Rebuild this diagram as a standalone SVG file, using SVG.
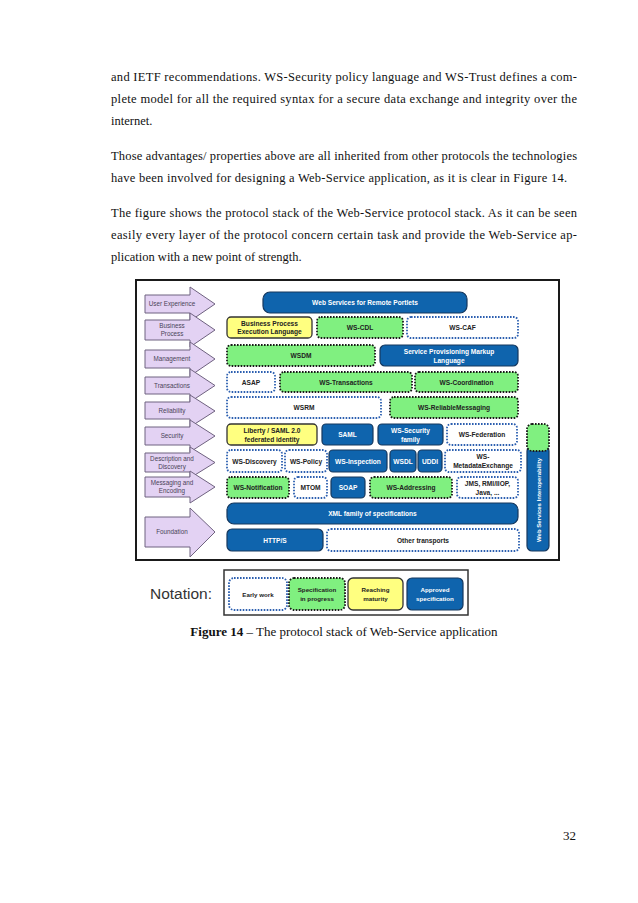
<svg xmlns="http://www.w3.org/2000/svg" width="638" height="903" viewBox="0 0 638 903">
<style>
.para{font-family:"Liberation Serif","Times New Roman",serif;font-size:12.5px;fill:#111}
.blue{fill:#0f64ad;stroke:#16385e;stroke-width:1.2}
.green{fill:#80f080;stroke:#1a1a1a;stroke-width:1.8;stroke-dasharray:1.6 1.4}
.white{fill:#fff;stroke:#2c5fb0;stroke-width:1.8;stroke-dasharray:1.6 1.4}
.yellow{fill:#ffff80;stroke:#333;stroke-width:1.3}
.arrow{fill:#e3d2f3;stroke:#6f6280;stroke-width:1}
.lb{font-family:"Liberation Sans",Arial,sans-serif;font-weight:bold;font-size:6.6px;text-anchor:middle;fill:#222}
.wt{fill:#fff}
.al{font-family:"Liberation Sans",Arial,sans-serif;font-size:6.3px;text-anchor:middle;fill:#4a4458}
</style>
<rect width="638" height="903" fill="#fff"/>
<g id="body-text">
<text class="para" x="111" y="81" textLength="466" lengthAdjust="spacing">and IETF recommendations. WS-Security policy language and WS-Trust defines a com-</text>
<text class="para" x="111" y="103" textLength="466" lengthAdjust="spacing">plete model for all the required syntax for a secure data exchange and integrity over the</text>
<text class="para" x="111" y="125">internet.</text>
<text class="para" x="111" y="160" textLength="466" lengthAdjust="spacing">Those advantages/ properties above are all inherited from other protocols the technologies</text>
<text class="para" x="111" y="182" textLength="456" lengthAdjust="spacing">have been involved for designing a Web-Service application, as it is clear in Figure 14.</text>
<text class="para" x="111" y="217" textLength="466" lengthAdjust="spacing">The figure shows the protocol stack of the Web-Service protocol stack. As it can be seen</text>
<text class="para" x="111" y="239" textLength="466" lengthAdjust="spacing">easily every layer of the protocol concern certain task and provide the Web-Service ap-</text>
<text class="para" x="111" y="261">plication with a new point of strength.</text>
</g>
<g id="frame">
<rect x="136" y="280" width="423" height="280" fill="#fff" stroke="#1a1a1a" stroke-width="2"/>
</g>
<g id="arrows">
<g id="arrow-ue"><path class="arrow" d="M145,295H190V287L215,304L190,321V313H145Z"/><text class="al" x="172" y="306">User Experience</text></g>
<g id="arrow-bp"><path class="arrow" d="M145,320H190V313L215,330L190,347V340H145Z"/><text class="al" x="172" y="328">Business</text><text class="al" x="172" y="336">Process</text></g>
<g id="arrow-mgmt"><path class="arrow" d="M145,350H190V342L215,359L190,376V368H145Z"/><text class="al" x="172" y="361">Management</text></g>
<g id="arrow-trans"><path class="arrow" d="M145,377H190V369L215,385.5L190,402V394H145Z"/><text class="al" x="172" y="387.5">Transactions</text></g>
<g id="arrow-rel"><path class="arrow" d="M145,402H190V395L215,411L190,427V419H145Z"/><text class="al" x="172" y="413">Reliability</text></g>
<g id="arrow-sec"><path class="arrow" d="M145,427H190V420L215,436L190,452V445H145Z"/><text class="al" x="172" y="438">Security</text></g>
<g id="arrow-dd"><path class="arrow" d="M145,453H190V447L215,462.5L190,478V472H145Z"/><text class="al" x="172" y="461">Description and</text><text class="al" x="172" y="469">Discovery</text></g>
<g id="arrow-me"><path class="arrow" d="M145,477H190V471L215,487L190,503V497H145Z"/><text class="al" x="172" y="485">Messaging and</text><text class="al" x="172" y="493">Encoding</text></g>
<g id="arrow-found"><path class="arrow" d="M145,517H190V508L215,532L190,557V547H145Z"/><text class="al" x="172" y="534">Foundation</text></g>
</g>
<g id="connectors"/>
<g id="wsrp"><rect class="blue" x="263" y="292" width="204" height="21" rx="7"/><text class="lb wt" x="365" y="305">Web Services for Remote Portlets</text></g>
<g id="bpel"><rect class="yellow" x="227" y="317" width="85" height="21" rx="4"/><text class="lb" x="269.5" y="326">Business Process</text><text class="lb" x="269.5" y="334">Execution Language</text></g>
<g id="ws-cdl"><rect class="green" x="317" y="317" width="86" height="21" rx="4"/><text class="lb" x="360" y="330">WS-CDL</text></g>
<g id="ws-caf"><rect class="white" x="407" y="317" width="111" height="21" rx="4"/><text class="lb" x="462.5" y="330">WS-CAF</text></g>
<g id="wsdm"><rect class="green" x="227" y="345" width="148" height="21" rx="4"/><text class="lb" x="301" y="358">WSDM</text></g>
<g id="spml"><rect class="blue" x="380" y="345" width="138" height="21" rx="5"/><text class="lb wt" x="449" y="354">Service Provisioning Markup</text><text class="lb wt" x="449" y="362.5">Language</text></g>
<g id="asap"><rect class="white" x="227" y="372" width="48" height="20" rx="4"/><text class="lb" x="251" y="384.5">ASAP</text></g>
<g id="ws-transactions"><rect class="green" x="280" y="372" width="132" height="20" rx="4"/><text class="lb" x="346" y="384.5">WS-Transactions</text></g>
<g id="ws-coordination"><rect class="green" x="415" y="372" width="103" height="20" rx="4"/><text class="lb" x="466.5" y="384.5">WS-Coordination</text></g>
<g id="wsrm"><rect class="white" x="227" y="397" width="154" height="21" rx="4"/><text class="lb" x="304" y="410">WSRM</text></g>
<g id="ws-rm"><rect class="green" x="390" y="397" width="128" height="21" rx="4"/><text class="lb" x="454" y="410">WS-ReliableMessaging</text></g>
<g id="liberty"><rect class="yellow" x="227" y="424" width="90" height="21" rx="4"/><text class="lb" x="272" y="433">Liberty / SAML 2.0</text><text class="lb" x="272" y="441.5">federated identity</text></g>
<g id="saml"><rect class="blue" x="322" y="424" width="51" height="21" rx="4"/><text class="lb wt" x="347.5" y="437">SAML</text></g>
<g id="ws-security"><rect class="blue" x="378" y="424" width="65" height="21" rx="4"/><text class="lb wt" x="410.5" y="433">WS-Security</text><text class="lb wt" x="410.5" y="441.5">family</text></g>
<g id="ws-federation"><rect class="white" x="447" y="424" width="70" height="21" rx="4"/><text class="lb" x="482" y="437">WS-Federation</text></g>
<g id="ws-discovery"><rect class="white" x="227" y="450" width="55" height="22" rx="4"/><text class="lb" x="254.5" y="463.5">WS-Discovery</text></g>
<g id="ws-policy"><rect class="white" x="285" y="450" width="42" height="22" rx="4"/><text class="lb" x="306" y="463.5">WS-Policy</text></g>
<g id="ws-inspection"><rect class="blue" x="329" y="450" width="58" height="22" rx="4"/><text class="lb wt" x="358" y="463.5">WS-Inspection</text></g>
<g id="wsdl"><rect class="blue" x="390" y="450" width="26" height="22" rx="4"/><text class="lb wt" x="403" y="463.5">WSDL</text></g>
<g id="uddi"><rect class="blue" x="418" y="450" width="24" height="22" rx="4"/><text class="lb wt" x="430" y="463.5">UDDI</text></g>
<g id="ws-mex"><rect class="white" x="445" y="450" width="76" height="22" rx="4"/><text class="lb" x="483" y="459">WS-</text><text class="lb" x="483" y="468">MetadataExchange</text></g>
<g id="ws-notification"><rect class="green" x="227" y="477" width="62" height="21" rx="4"/><text class="lb" x="258" y="490">WS-Notification</text></g>
<g id="mtom"><rect class="white" x="294" y="477" width="33" height="21" rx="4"/><text class="lb" x="310.5" y="490">MTOM</text></g>
<g id="soap"><rect class="blue" x="331" y="477" width="34" height="21" rx="4"/><text class="lb wt" x="348" y="490">SOAP</text></g>
<g id="ws-addressing"><rect class="green" x="370" y="477" width="82" height="21" rx="4"/><text class="lb" x="411" y="490">WS-Addressing</text></g>
<g id="jms"><rect class="white" x="457" y="477" width="61" height="21" rx="4"/><text class="lb" x="487.5" y="486">JMS, RMI/IIOP,</text><text class="lb" x="487.5" y="494.5">Java, ...</text></g>
<g id="xml"><rect class="blue" x="227" y="503" width="291" height="21" rx="7"/><text class="lb wt" x="372.5" y="516">XML family of specifications</text></g>
<g id="https"><rect class="blue" x="227" y="529" width="96" height="22" rx="5"/><text class="lb wt" x="275" y="542.5">HTTP/S</text></g>
<g id="other-transports"><rect class="white" x="327" y="529" width="192" height="22" rx="4"/><text class="lb" x="423" y="542.5">Other transports</text></g>
<g id="interop"><rect class="blue" x="527" y="446" width="22" height="105" rx="5"/><rect class="green" x="527" y="424" width="22" height="27" rx="5"/><text class="lb wt" transform="translate(540.5,500) rotate(-90)" x="0" y="0" style="font-size:6px">Web Services Interoperability</text></g>
<g id="notation">
<text x="150" y="599" style="font-family:'Liberation Sans',Arial,sans-serif;font-size:15.5px;fill:#333">Notation:</text>
<rect x="224" y="570" width="244" height="45" fill="#fff" stroke="#333" stroke-width="1.5"/>
<g id="n-early"><rect class="white" x="229" y="578" width="58" height="32" rx="5"/><text class="lb" x="258" y="596.5" style="font-size:6.2px">Early work</text></g>
<g id="n-progress"><rect class="green" x="289" y="578" width="56" height="32" rx="5"/><text class="lb" x="317" y="592" style="font-size:6.2px">Specification</text><text class="lb" x="317" y="600.5" style="font-size:6.2px">in progress</text></g>
<g id="n-maturity"><rect class="yellow" x="348" y="578" width="55" height="32" rx="5"/><text class="lb" x="375.5" y="592" style="font-size:6.2px">Reaching</text><text class="lb" x="375.5" y="600.5" style="font-size:6.2px">maturity</text></g>
<g id="n-approved"><rect class="blue" x="407" y="578" width="56" height="32" rx="5"/><text class="lb wt" x="435" y="592" style="font-size:6.2px">Approved</text><text class="lb wt" x="435" y="600.5" style="font-size:6.2px">specification</text></g>
</g>
<g id="caption"><text x="344" y="636" text-anchor="middle" style="font-family:'Liberation Serif','Times New Roman',serif;font-size:13px;fill:#111"><tspan font-weight="bold">Figure 14</tspan> – The protocol stack of Web-Service application</text></g>
<g id="page-number"><text x="576" y="840" text-anchor="end" style="font-family:'Liberation Serif','Times New Roman',serif;font-size:13px;fill:#111">32</text></g>
</svg>
